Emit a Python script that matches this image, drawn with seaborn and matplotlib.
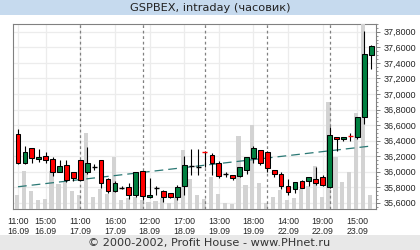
import matplotlib
matplotlib.use("Agg")
import matplotlib.pyplot as plt
import matplotlib.patches as mpatches
import numpy as np
import pandas as pd
import seaborn as sns

# ---------------- data ----------------
opens = [36.48, 36.105, 36.297, 36.156, 36.195, 36.156, 35.998, 36.083, 35.990,
         36.144, 35.998, 36.058, 36.144, 35.900, 35.750, 35.789, 35.805, 35.699,
         36.003, 35.670, 35.793, 35.754, 35.721, 35.670, 35.811, 36.077, 36.062,
         36.250, 36.212, 36.105, 35.964, 35.952, 35.946, 36.019, 36.177, 36.272,
         36.250, 36.019, 35.968, 35.811, 35.780, 35.879, 35.875, 35.900, 35.926,
         35.798, 36.438, 36.413, 36.464, 36.438, 36.702, 37.493]
highs = [36.545, 36.327, 36.300, 36.285, 36.254, 36.186, 36.147, 36.147, 35.995,
         36.150, 36.314, 36.092, 36.150, 35.921, 35.882, 35.815, 35.853, 36.000,
         36.010, 35.921, 35.811, 35.760, 35.725, 35.831, 36.195, 36.285, 36.290,
         36.263, 36.241, 36.138, 35.990, 35.955, 36.060, 36.190, 36.333, 36.280,
         36.260, 36.020, 35.990, 35.908, 35.870, 35.895, 35.930, 36.062, 35.952,
         36.574, 36.440, 36.446, 36.490, 36.700, 37.800, 37.615]
lows = [36.100, 36.100, 36.113, 36.118, 36.105, 35.946, 35.995, 35.870, 35.879,
        35.893, 35.964, 36.016, 35.793, 35.729, 35.738, 35.772, 35.652, 35.677,
        35.635, 35.665, 35.703, 35.610, 35.665, 35.635, 35.695, 35.953, 35.955,
        36.062, 35.952, 35.921, 35.934, 35.895, 35.934, 35.964, 36.105, 36.083,
        35.994, 35.926, 35.776, 35.699, 35.729, 35.790, 35.815, 35.827, 35.820,
        35.795, 36.267, 36.391, 36.395, 36.413, 36.605, 37.313]
closes = [36.105, 36.246, 36.169, 36.182, 36.151, 35.998, 36.071, 35.895, 35.921,
          35.895, 36.105, 36.058, 35.849, 35.750, 35.849, 35.789, 35.699, 35.990,
          35.690, 35.695, 35.793, 35.670, 35.670, 35.798, 36.080, 36.077, 36.062,
          36.245, 36.105, 35.946, 35.964, 35.913, 36.054, 36.182, 36.297, 36.105,
          36.041, 35.972, 35.818, 35.734, 35.866, 35.793, 35.926, 35.849, 35.823,
          36.468, 36.413, 36.438, 36.458, 36.695, 37.505, 37.612]
volumes = [14, 38, 18, 9, 9.7, 38.3, 25, 28.3, 18, 14, 76, 11.7, 20, 15, 52.3,
           9, 11.3, 11.7, 9, 7.3, 8, 11.3, 6.3, 11.7, 59, 30, 14, 9.7, 31.7, 14.7,
           5.7, 5, 73, 24.3, 84, 26.3, 5.7, 11.7, 19, 9, 11, 20, 23, 43, 12,
           107.3, 52, 27.3, 37, 97, 200, 14]
trend_ends = [35.805, 36.327]          # trend line value at first and last candle

tick_idx = [0, 4, 9, 14, 19, 24, 29, 34, 39, 44, 49]
tick_labels = ["11:00\n16.09", "15:00\n16.09", "11:00\n17.09", "16:00\n17.09",
               "12:00\n18.09", "17:00\n18.09", "13:00\n19.09", "18:00\n19.09",
               "14:00\n22.09", "19:00\n22.09", "15:00\n23.09"]
day_starts = [9, 18, 27, 36, 45]
price_ticks = [35.6, 35.8, 36.0, 36.2, 36.4, 36.6, 36.8, 37.0, 37.2, 37.4, 37.6, 37.8]

title = "GSPBEX, intraday (часовик)"
footer = "© 2000-2002, Profit House - www.PHnet.ru"

# ---------------- style ----------------
sns.set_style("white")
plt.rcParams["font.family"] = ["DejaVu Sans"]

W, H = 420, 250
fig = plt.figure(figsize=(W / 100, H / 100), dpi=100)
fig.patch.set_facecolor("white")

# banners
fig.patches.append(mpatches.Rectangle((0, 1 - 15 / H), 1, 15 / H, transform=fig.transFigure,
                                      facecolor="#c6daee", edgecolor="none", zorder=0))
fig.patches.append(mpatches.Rectangle((0, 0), 1, 15 / H, transform=fig.transFigure,
                                      facecolor="#e8e8e8", edgecolor="none", zorder=0))
fig.text(0.5, 1 - 8 / H, title, ha="center", va="center", fontsize=8.2, color="#222222")
fig.text(209 / W, 1 - 243 / H, footer, ha="center", va="center", fontsize=8.1, color="#333333")

rect = [13 / W, 1 - 209 / H, (376 - 13) / W, (209 - 24) / H]
n = len(closes)
idx = np.arange(n)
xlim = (-0.72, 51.7)
ylim = (35.52, 37.89)

# price axes (grid, spines, ticks)
ax = fig.add_axes(rect)
ax.set_zorder(1)
ax.set_xlim(*xlim)
ax.set_ylim(*ylim)
for v in price_ticks:
    ax.axhline(v, color="#ececec", lw=0.9, zorder=0)
for t in tick_idx:
    ax.axvline(t, color="#ececec", lw=0.9, zorder=0)
for s in ax.spines.values():
    s.set_color("#808080")
    s.set_linewidth(0.8)
ax.yaxis.tick_right()
ax.set_yticks(price_ticks)
ax.set_yticklabels([f"{v:.4f}".replace(".", ",") for v in price_ticks],
                   fontsize=6.5, family="Liberation Sans")
ax.set_yticks(np.arange(35.55, 37.9, 0.05), minor=True)
ax.tick_params(axis="y", which="major", length=3, width=0.7, color="#808080", pad=2.5)
ax.tick_params(axis="y", which="minor", length=1.5, width=0.6, color="#808080", right=True, left=False)
ax.set_xticks(tick_idx)
ax.set_xticklabels(tick_labels, fontsize=6.3, family="Liberation Sans", linespacing=1.25)
ax.tick_params(axis="x", length=2.5, width=0.7, color="#808080", pad=3)
ax.set_xlabel("")
ax.set_ylabel("")

# volume axes
ax_v = fig.add_axes(rect)
ax_v.set_zorder(2)
ax_v.patch.set_visible(False)
vol_df = pd.DataFrame({"i": idx - 0.15, "vol": volumes})
sns.barplot(data=vol_df, x="i", y="vol", native_scale=True, ax=ax_v, color="#d3d3d3",
            saturation=1, width=0.6, errorbar=None, linewidth=0)
ax_v.set_xlim(*xlim)
ax_v.set_ylim(0, 186)
ax_v.axis("off")

# candle axes
ax_c = fig.add_axes(rect)
ax_c.set_zorder(3)
ax_c.patch.set_visible(False)
ax_c.set_xlim(*xlim)
ax_c.set_ylim(*ylim)
ax_c.axis("off")

for d in day_starts:
    ax_c.axvline(d, color="#808080", lw=0.9, linestyle=(0, (2.2, 2.2)), zorder=1)

ax_c.plot([idx[0], idx[-1]], trend_ends, color="#2a7874", lw=0.9,
          linestyle=(0, (7, 4)), zorder=2)

o = np.array(opens); c = np.array(closes); h = np.array(highs); l = np.array(lows)
ax_c.vlines(idx, l, h, color="black", lw=0.8, zorder=3)
body = np.abs(c - o) >= 0.01
cols = np.where(c >= o, "#008040", "#ff0000")
ax_c.bar(idx[body], np.abs(c - o)[body], bottom=np.minimum(o, c)[body], width=0.68,
         color=cols[body], edgecolor="black", linewidth=0.75, zorder=4)
doji_cols = np.where(o > c + 1e-9, "#ff0000", "black")
for i in idx[~body]:
    ax_c.hlines((o[i] + c[i]) / 2, i - 0.36, i + 0.36, color=doji_cols[i], lw=1.0, zorder=4)

fig.savefig("out.png", dpi=100)
